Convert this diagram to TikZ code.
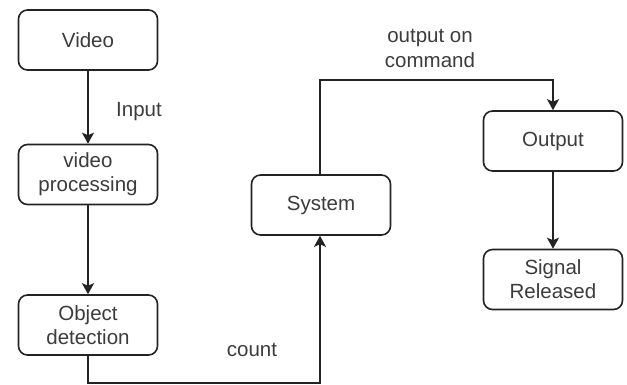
\documentclass[tikz,border=0pt]{standalone}
\usepackage{fontspec}
\setmainfont{Liberation Sans}
\usetikzlibrary{arrows.meta}
\definecolor{ink}{RGB}{35,35,35}
\definecolor{txt}{RGB}{60,60,60}
\tikzset{
  box/.style={draw=ink, line width=1.6pt, rounded corners=9pt, fill=white,
    minimum width=139pt, minimum height=60pt, align=center,
    text=txt, font=\fontsize{20.5}{24}\selectfont, inner sep=2pt},
  lbl/.style={text=txt, font=\fontsize{20.5}{25}\selectfont, align=center, inner sep=0pt},
  flow/.style={draw=ink, line width=1.6pt, -{Stealth[length=11pt,width=12pt,inset=2.5pt]}}
}
\begin{document}
\begin{tikzpicture}[x=1pt,y=1pt]
  \useasboundingbox (0,0) rectangle (627,-384);

  % processing chain on the left
  \node[box] (video) at (88,-40)    {Video};
  \node[box] (proc)  at (88,-174.5) {video\\processing};
  \node[box] (obj)   at (88,-325)   {Object\\detection};

  % system and output side
  \node[box] (sys) at (321,-205)   {System};
  \node[box] (out) at (553,-141)   {Output};
  \node[box] (sig) at (553,-279.5) {Signal\\Released};

  % edge labels
  \node[lbl] (lin)  at (139,-112) {Input};
  \node[lbl] (lcnt) at (252,-350) {count};
  \node[lbl] (lcmd) at (430,-48)  {output on\\command};

  % connectors
  \draw[flow] (video.south) -- (proc.north);
  \draw[flow] (proc.south) -- (obj.north);
  \coordinate (cb) at ([yshift=-27pt]obj.south);
  \draw[flow] (obj.south) -- (cb) -| ([xshift=-1pt]sys.south);
  \coordinate (ct) at ([xshift=-1pt,yshift=94pt]sys.north);
  \draw[flow] ([xshift=-1pt]sys.north) -- (ct) -| (out.north);
  \draw[flow] (out.south) -- (sig.north);
\end{tikzpicture}
\end{document}
